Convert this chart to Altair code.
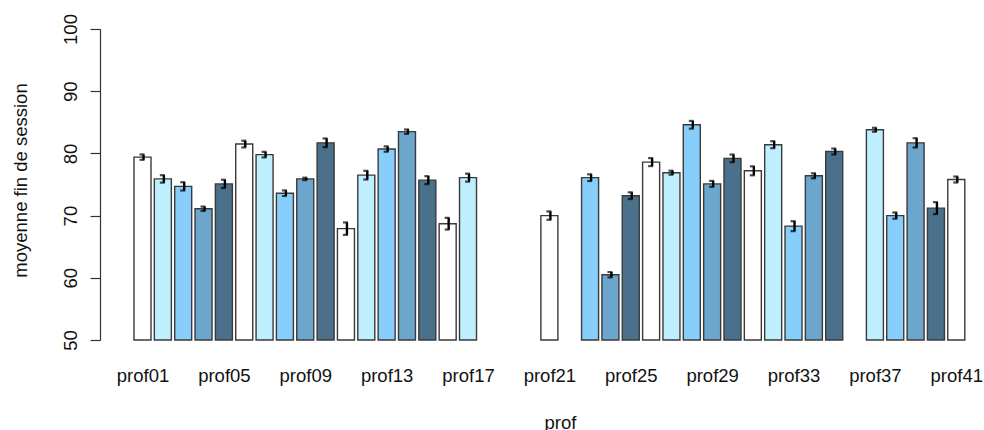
import altair as alt
import pandas as pd

profs = ["prof%02d" % i for i in range(1, 42)]
means = [79.4, 75.9, 74.7, 71.1, 75.1, 81.5, 79.8, 73.6, 75.9, 81.7,
         67.9, 76.5, 80.7, 83.5, 75.7, 68.7, 76.1, None, None, None,
         70.0, None, 76.1, 60.5, 73.2, 78.6, 76.9, 84.6, 75.1, 79.2,
         77.2, 81.4, 68.3, 76.4, 80.3, None, 83.8, 70.0, 81.7, 71.2, 75.8]
errs = [0.43, 0.6, 0.67, 0.35, 0.67, 0.54, 0.45, 0.45, 0.2, 0.7,
        1.0, 0.7, 0.43, 0.35, 0.64, 0.94, 0.64, None, None, None,
        0.67, None, 0.54, 0.43, 0.54, 0.64, 0.32, 0.62, 0.48, 0.62,
        0.72, 0.56, 0.8, 0.4, 0.48, None, 0.32, 0.5, 0.75, 0.96, 0.48]
palette = ["#FFFFFF", "#BFEFFF", "#87CEFA", "#6CA6CD", "#4A708B"]
tick_labels = profs[::4]
y_ticks = [50, 60, 70, 80, 90, 100]

rows = []
for k, (p, m, e) in enumerate(zip(profs, means, errs)):
    if m is None:
        continue
    idx = k + 1
    rows.append({"prof": p, "idx": idx, "x0": idx - 0.418, "x1": idx + 0.418,
                 "mean": m, "lo": m - e, "hi": m + e, "grp": "g%d" % (k % 5)})
df = pd.DataFrame(rows)

FONT = "Liberation Sans"
tick_vals = [int(t[4:]) for t in tick_labels]

xscale = alt.Scale(domain=[-1.089, 41.92], nice=False, zero=False)
yscale = alt.Scale(domain=[50, 100], nice=False, zero=False)

xaxis = alt.Axis(values=tick_vals, grid=False, domain=False, ticks=False, tickSize=0,
                 labelExpr="'prof' + (datum.value < 10 ? '0' : '') + datum.value",
                 labelFont=FONT, labelFontSize=18.5, labelColor="#111",
                 labelBaseline="alphabetic", labelPadding=41, labelFlush=False,
                 labelOverlap=False,
                 title="prof", titleFont=FONT, titleFontSize=18.5, titleFontWeight="normal",
                 titleColor="#111", titleX=460, titleY=88, titleBaseline="alphabetic",
                 titleAlign="center")
yaxis = alt.Axis(values=y_ticks, grid=False, domainColor="#333", tickColor="#333",
                 tickSize=10, domainWidth=1.2, tickWidth=1.2,
                 labelFont=FONT, labelFontSize=18.5, labelColor="#111", labelAngle=270,
                 labelAlign="center", labelBaseline="alphabetic", labelPadding=14,
                 labelFlush=False, labelOverlap=False,
                 title="moyenne fin de session", titleFont=FONT, titleFontSize=18.5,
                 titleFontWeight="normal", titleColor="#111", titleAngle=270,
                 titleAlign="center", titleBaseline="alphabetic", titleX=-74, titleY=151)

base = alt.Chart(df)

bars = base.mark_bar(stroke="#3a3a3a", strokeWidth=1.4).encode(
    x=alt.X("x0:Q", scale=xscale, axis=xaxis),
    x2="x1:Q",
    y=alt.Y("mean:Q", scale=yscale, axis=yaxis),
    y2=alt.datum(50),
    color=alt.Color("grp:N", scale=alt.Scale(domain=["g0", "g1", "g2", "g3", "g4"], range=palette), legend=None),
)

err = base.mark_rule(color="black", strokeWidth=2.4, xOffset=1).encode(
    x=alt.X("idx:Q", scale=xscale),
    y=alt.Y("lo:Q", scale=yscale),
    y2="hi:Q",
)
cap_lo = base.mark_tick(color="black", orient="horizontal", size=5, thickness=2.2, xOffset=-0.5).encode(
    x=alt.X("idx:Q", scale=xscale),
    y=alt.Y("lo:Q", scale=yscale),
)
cap_hi = base.mark_tick(color="black", orient="horizontal", size=5, thickness=2.2, xOffset=-0.5).encode(
    x=alt.X("idx:Q", scale=xscale),
    y=alt.Y("hi:Q", scale=yscale),
)

chart = alt.layer(bars, err, cap_lo, cap_hi).properties(
    width=875, height=311,
    autosize=alt.AutoSizeParams(type="none"),
    padding={"left": 100, "top": 29, "right": 9, "bottom": 90},
    background="white",
).configure_view(stroke=None)

chart.save("out.html", embed_options={"renderer": "svg", "actions": False})
